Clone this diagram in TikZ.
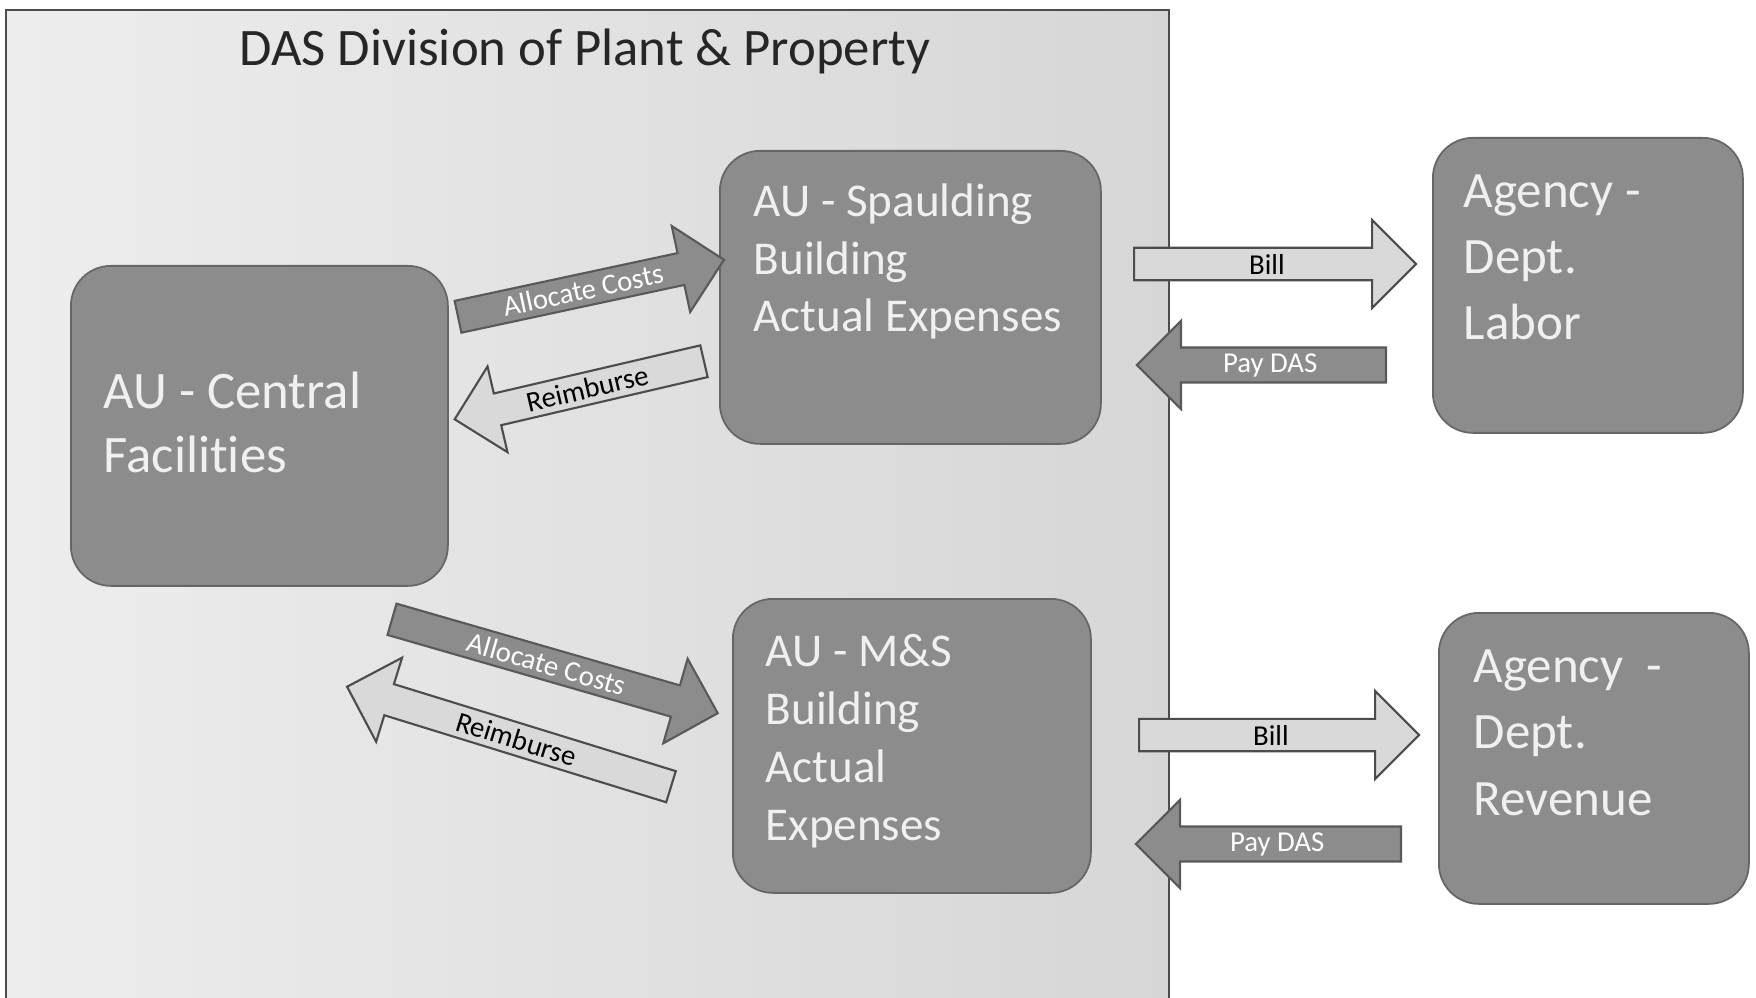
\documentclass[tikz,border=0pt]{standalone}
\usepackage{fontspec}
\setmainfont{Carlito}[Ligatures={NoCommon}]
\usetikzlibrary{shapes.arrows}

\tikzset{
  unit/.style={draw=black!60, fill=black!45, rounded corners=4mm, line width=0.5pt, anchor=north west},
  unittext/.style={anchor=base west, text=white!94!black, align=left, inner sep=0pt},
  blockarrow/.style={single arrow, single arrow head extend=2.2mm, minimum width=8.8mm,
    inner sep=0.5pt, line width=0.6pt, font=\fontsize{8.2}{9}\selectfont, sloped,
    anchor=tail, pos=0},
  darkarrow/.style={blockarrow, draw=black!65, fill=black!45, text=white},
  lightarrow/.style={blockarrow, draw=black!70, fill=black!15, text=black},
  leftward/.style={shape border rotate=180, pos=1},
}

\begin{document}
\begin{tikzpicture}[x=0.1mm, y=-0.1mm]
  \useasboundingbox (0,0) rectangle (1756,998);
  \fill[white] (0,0) rectangle (1756,998);

  % Panel
  \shade[left color=black!7, right color=black!16] (6,10) rectangle (1169,1010);
  \draw[black!70, line width=0.6pt] (6,1010) -- (6,10) -- (1169,10) -- (1169,1010);
  \node[anchor=base west, inner sep=0pt, font=\fontsize{15}{18}\selectfont, text=black!85]
    (title) at (239,66) {DAS Division of Plant \& Property};

  % Units
  \node[unit, minimum width=37.7mm, minimum height=32mm] (central) at (70,265) {};
  \node[unit, minimum width=38.1mm, minimum height=29.3mm] (spaulding) at (719,150) {};
  \node[unit, minimum width=35.8mm, minimum height=29.4mm] (ms) at (732,598) {};
  \node[unit, minimum width=31mm, minimum height=29.5mm] (labor) at (1432,137) {};
  \node[unit, minimum width=31mm, minimum height=29.1mm] (revenue) at (1438,612) {};

  % Unit texts (placed at the baseline of the last line)
  \node[unittext, font=\fontsize{15}{18.2}\selectfont] (central-txt) at (103,472)
    {AU - Central\\Facilities};
  \node[unittext, font=\fontsize{13.4}{16.4}\selectfont] (spaulding-txt) at (753,332)
    {AU - Spaulding\\Building\\Actual Expenses};
  \node[unittext, font=\fontsize{13.4}{16.5}\selectfont] (ms-txt) at (765,840)
    {AU - M\&S\\Building\\Actual\\Expenses};
  \node[unittext, font=\fontsize{14.5}{18.9}\selectfont] (labor-txt) at (1463,340)
    {Agency -\\Dept.\\Labor};
  \node[unittext, font=\fontsize{14.5}{18.9}\selectfont] (revenue-txt) at (1473,815)
    {Agency~~-\\Dept.\\Revenue};

  % Arrow ends
  \coordinate (alloc1-tail) at (457,317);
  \coordinate (alloc1-tip) at (723,260);
  \coordinate (reimb1-tip) at (456,419);
  \coordinate (reimb1-tail) at (705,361);
  \coordinate (alloc2-tail) at (391,619);
  \coordinate (alloc2-tip) at (717,713);
  \coordinate (reimb2-tip) at (348,687);
  \coordinate (reimb2-tail) at (672,787);
  \coordinate (bill1-tail) at (1133,264);
  \coordinate (bill1-tip) at (1415,264);
  \coordinate (pay1-tip) at (1138,365);
  \coordinate (pay1-tail) at (1387,365);
  \coordinate (bill2-tail) at (1138,735);
  \coordinate (bill2-tip) at (1418,735);
  \coordinate (pay2-tip) at (1137,844);
  \coordinate (pay2-tail) at (1402,844);

  % Block arrows
  \path (alloc1-tail) -- (alloc1-tip)
    node[darkarrow, minimum height=27.2mm] (alloc1) {Allocate Costs};
  \path (reimb1-tip) -- (reimb1-tail)
    node[lightarrow, leftward, minimum height=25.6mm] (reimb1) {Reimburse};
  \path (alloc2-tail) -- (alloc2-tip)
    node[darkarrow, minimum height=33.9mm] (alloc2) {Allocate Costs};
  \path (reimb2-tip) -- (reimb2-tail)
    node[lightarrow, leftward, minimum height=33.9mm] (reimb2) {Reimburse};
  \path (bill1-tail) -- (bill1-tip)
    node[lightarrow, minimum height=28.2mm] (bill1) {Bill};
  \path (pay1-tip) -- (pay1-tail)
    node[darkarrow, leftward, minimum height=24.9mm] (pay1) {Pay DAS};
  \path (bill2-tail) -- (bill2-tip)
    node[lightarrow, minimum height=28mm] (bill2) {Bill};
  \path (pay2-tip) -- (pay2-tail)
    node[darkarrow, leftward, minimum height=26.5mm] (pay2) {Pay DAS};
\end{tikzpicture}
\end{document}
